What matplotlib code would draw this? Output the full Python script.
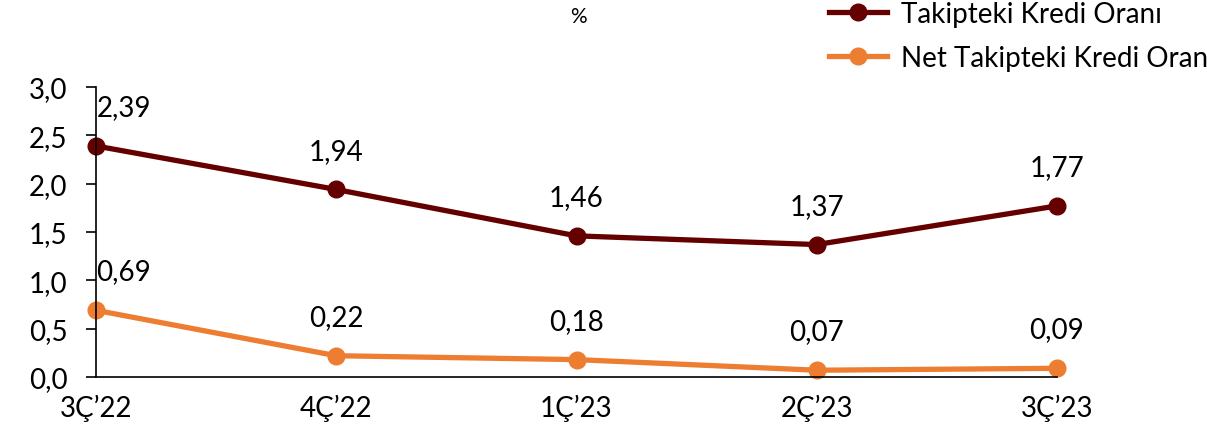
import matplotlib.pyplot as plt

quarters = ["3Ç’22", "4Ç’22", "1Ç’23", "2Ç’23", "3Ç’23"]
takipteki = [2.39, 1.94, 1.46, 1.37, 1.77]
net_takipteki = [0.69, 0.22, 0.18, 0.07, 0.09]
series_names = ["Takipteki Kredi Oranı", "Net Takipteki Kredi Oranı"]
yticks = [0.0, 0.5, 1.0, 1.5, 2.0, 2.5, 3.0]

DARK = "#650000"
ORANGE = "#ED7D31"
FS = 20

plt.rcParams['font.family'] = ['Lato', 'DejaVu Sans']

fig = plt.figure(figsize=(12.07, 4.27), dpi=100)
ax = fig.add_axes([96 / 1207, 49 / 427, 961 / 1207, 290 / 427])

x = list(range(len(quarters)))
l1, = ax.plot(x, takipteki, color=DARK, lw=3.8, marker="o", ms=12, label=series_names[0])
l2, = ax.plot(x, net_takipteki, color=ORANGE, lw=3.8, marker="o", ms=12, label=series_names[1])

def fmt(v):
    return f"{v:.2f}".replace(".", ",")

for i, (a, b) in enumerate(zip(takipteki, net_takipteki)):
    dx = 20 if i == 0 else 0
    ax.annotate(fmt(a), (i, a), xytext=(dx, 28), textcoords="offset points",
                ha="center", va="center", fontsize=FS)
    ax.annotate(fmt(b), (i, b), xytext=(dx, 28), textcoords="offset points",
                ha="center", va="center", fontsize=FS)

ax.set_xlim(0, 4)
ax.set_ylim(0, 3.0)
ax.set_yticks(yticks)
ax.set_yticklabels([f"{t:.1f}".replace(".", ",") for t in yticks])
ax.set_xticks(x)
ax.set_xticklabels(quarters)
ax.tick_params(axis="y", labelsize=FS, length=7.5, width=1.2, direction="out", pad=13)
ax.tick_params(axis="x", labelsize=FS, length=0, pad=12)
for s in ["top", "right"]:
    ax.spines[s].set_visible(False)
ax.spines["left"].set_linewidth(1.2)
ax.spines["bottom"].set_linewidth(1.2)
for lab in ax.get_xticklabels() + ax.get_yticklabels():
    lab.set_clip_on(False)
l1.set_clip_on(False)
l2.set_clip_on(False)

fig.text(578 / 1207, 1 - 17 / 427, "%", ha="center", va="center", fontsize=15)

# legend runs past the right edge, as in the source image
fig.legend(handles=[l1, l2], loc="upper left", bbox_to_anchor=(804 / 1207, 1.055),
           frameon=False, fontsize=FS, handlelength=2.1, labelspacing=0.66,
           handletextpad=0.5)

fig.savefig("out.png", dpi=100)
